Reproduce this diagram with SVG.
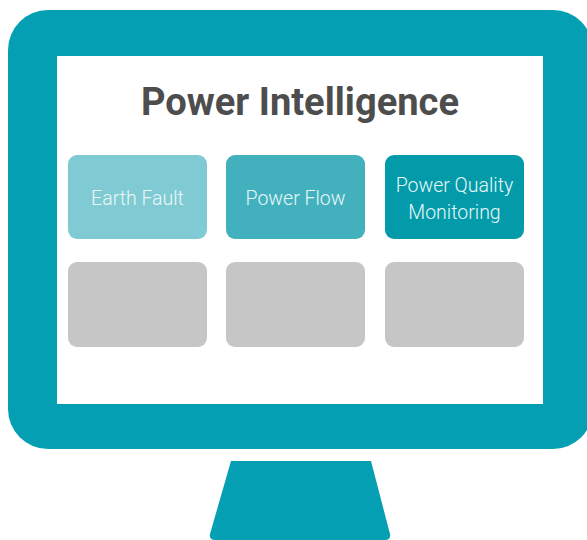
<svg xmlns="http://www.w3.org/2000/svg" width="587" height="540" viewBox="0 0 587 540">
<style>
.card{rx:9px}
.lbl{font-family:Roboto,"Liberation Sans",sans-serif;font-weight:300;font-size:19.5px;fill:#EAF7F9;text-anchor:middle}
.gray{fill:#C6C6C6}
</style>
<g id="monitor">
<rect x="8" y="10" width="585" height="439" rx="40" fill="#049FB3"/>
<rect x="57" y="56" width="486" height="348" fill="#FFFFFF"/>
<path d="M231,461 L371,461 L390,534 Q391,540 385,540 L215,540 Q209,540 210,534 Z" fill="#049FB3"/>
</g>
<text x="300" y="115" font-family="Roboto,'Liberation Sans',sans-serif" font-weight="700" font-size="39" fill="#4D4D4D" text-anchor="middle" textLength="318" lengthAdjust="spacingAndGlyphs">Power Intelligence</text>
<g id="earth-fault"><rect class="card" x="68" y="155" width="139" height="84" fill="#80CBD3"/><text class="lbl" x="137.5" y="205">Earth Fault</text></g>
<g id="power-flow"><rect class="card" x="226" y="155" width="139" height="84" fill="#42B1BD"/><text class="lbl" x="295.5" y="205">Power Flow</text></g>
<g id="power-quality"><rect class="card" x="385" y="155" width="139" height="84" fill="#039BA9"/><text class="lbl" x="454.5" y="192">Power Quality</text><text class="lbl" x="454.5" y="219">Monitoring</text></g>
<g id="slot-1"><rect class="card gray" x="68" y="262" width="139" height="85"/></g>
<g id="slot-2"><rect class="card gray" x="226" y="262" width="139" height="85"/></g>
<g id="slot-3"><rect class="card gray" x="385" y="262" width="139" height="85"/></g>
<g id="connectors"/>
</svg>
